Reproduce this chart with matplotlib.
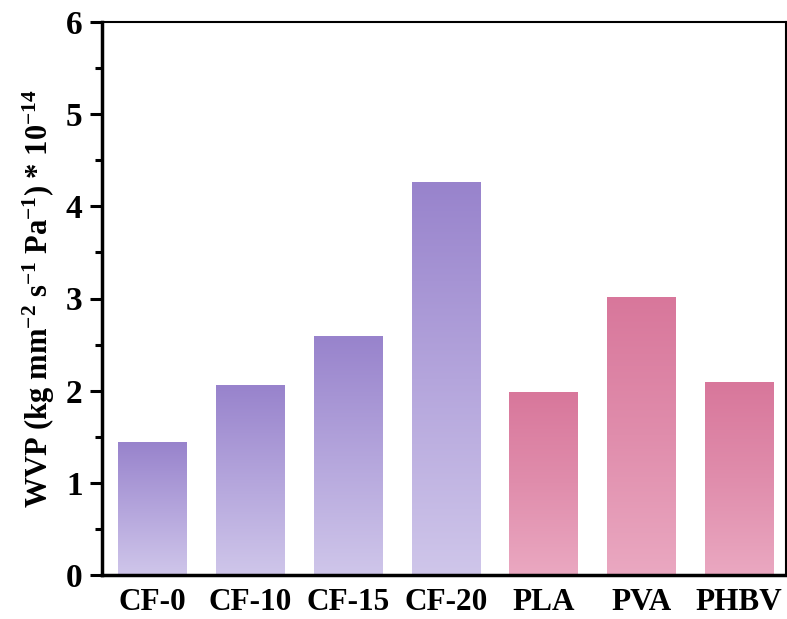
import numpy as np
import matplotlib
matplotlib.use("Agg")
import matplotlib.pyplot as plt
from matplotlib.colors import LinearSegmentedColormap
from matplotlib.ticker import MultipleLocator

# data
samples = ["CF-0", "CF-10", "CF-15", "CF-20", "PLA", "PVA", "PHBV"]
wvp = [1.44, 2.06, 2.59, 4.26, 1.99, 3.02, 2.09]
groups = ["cf", "cf", "cf", "cf", "poly", "poly", "poly"]

plt.rcParams["font.family"] = "Liberation Serif"
plt.rcParams["font.weight"] = "bold"
plt.rcParams["mathtext.fontset"] = "custom"
plt.rcParams["mathtext.rm"] = "Liberation Serif:bold"
plt.rcParams["mathtext.it"] = "Liberation Serif:bold"
plt.rcParams["mathtext.bf"] = "Liberation Serif:bold"

cmaps = {
    "cf": LinearSegmentedColormap.from_list("cf", ["#CFC6EA", "#B4A5DC", "#9883CC"]),
    "poly": LinearSegmentedColormap.from_list("poly", ["#EAA8C1", "#E08DAC", "#D8779B"]),
}

fig = plt.figure(figsize=(7.87, 6.19), dpi=100)
ax = fig.add_axes([102 / 787, 1 - 575 / 619, 684 / 787, 553 / 619])

x = np.arange(len(samples))
bars = ax.bar(x, wvp, width=0.7, facecolor="none", edgecolor="none")
grad = np.linspace(0, 1, 256).reshape(-1, 1)
for b, g in zip(bars, groups):
    x0, w, h = b.get_x(), b.get_width(), b.get_height()
    im = ax.imshow(grad, cmap=cmaps[g], origin="lower", aspect="auto",
                   extent=[x0, x0 + w, 0, h], zorder=2)
    im.set_clip_path(b)

ax.set_xlim(-0.517, 6.48)
ax.set_ylim(0, 6)
ax.yaxis.set_major_locator(MultipleLocator(1))
ax.yaxis.set_minor_locator(MultipleLocator(0.5))
ax.set_xticks(x)
ax.set_xticklabels(samples, fontsize=22.5, fontweight="bold")
ax.tick_params(axis="x", length=0, pad=9)
ax.tick_params(axis="y", which="major", direction="out", length=9, width=2.2,
               labelsize=24, pad=5)
ax.tick_params(axis="y", which="minor", direction="out", length=5, width=2.2)
for lab in ax.get_yticklabels():
    lab.set_fontweight("bold")

for side in ["left", "bottom"]:
    ax.spines[side].set_linewidth(2.5)
for side in ["top", "right"]:
    ax.spines[side].set_linewidth(1.5)

ax.set_ylabel(r"WVP (kg mm$^{-2}$ s$^{\mathrm{-1}}$ Pa$^{-1}$) * 10$^{\mathrm{-14}}$",
              fontsize=22, fontweight="bold")
ax.yaxis.set_label_coords(-0.066, 0.5)

fig.savefig("out.png", dpi=100)
